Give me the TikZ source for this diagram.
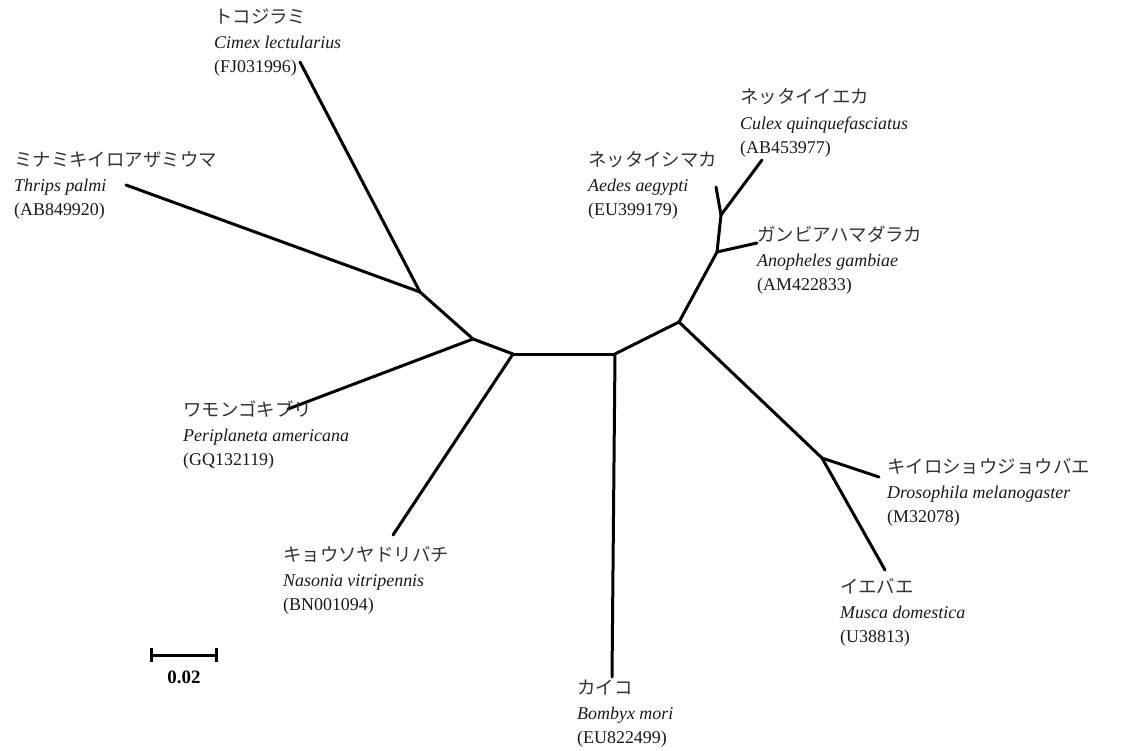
\documentclass[tikz,border=0pt]{standalone}
\usepackage{fontspec}
\setmainfont{Liberation Serif}
\newfontfamily\cjkfont{Noto Sans CJK JP}
\begin{document}
\begin{tikzpicture}[x=1bp,y=-1bp,
  branch/.style={line width=3bp, line cap=round, line join=round},
  jlab/.style={anchor=base west, inner sep=0pt, font=\cjkfont\fontsize{18.5}{20}\selectfont, text=black!80},
  llab/.style={anchor=base west, inner sep=0pt, font=\fontsize{18}{20}\selectfont, text=black!90}]
\useasboundingbox[fill=white] (0,0) rectangle (1121,751);
\newcommand\taxonlab[6]{%
  \node[jlab] (#1j) at (#2,#3) {#4};
  \node[llab] (#1s) at (#2,#3+25) {\textit{#5}};
  \node[llab] (#1a) at (#2,#3+49) {#6};}
% internal junctions
\coordinate (A) at (420,292);
\coordinate (B) at (473,339);
\coordinate (C) at (513,354);
\coordinate (D) at (615,354);
\coordinate (E) at (679,322);
\coordinate (F) at (717,252);
\coordinate (G) at (721,215);
\coordinate (H) at (822,458);
% leaf tips
\coordinate (cimex) at (300,62);
\coordinate (thrips) at (126,185);
\coordinate (peri) at (288,409);
\coordinate (naso) at (393,535);
\coordinate (bomb) at (612,677);
\coordinate (culex) at (762,160);
\coordinate (aedes) at (716,187);
\coordinate (anoph) at (757,243);
\coordinate (droso) at (879,477);
\coordinate (musca) at (885,570);
% branches
\draw[branch] (A) -- (cimex);
\draw[branch] (A) -- (thrips);
\draw[branch] (A) -- (B);
\draw[branch] (B) -- (peri);
\draw[branch] (B) -- (C);
\draw[branch] (C) -- (naso);
\draw[branch] (C) -- (D);
\draw[branch] (D) -- (bomb);
\draw[branch] (D) -- (E);
\draw[branch] (E) -- (F);
\draw[branch] (F) -- (anoph);
\draw[branch] (F) -- (G);
\draw[branch] (G) -- (aedes);
\draw[branch] (G) -- (culex);
\draw[branch] (E) -- (H);
\draw[branch] (H) -- (droso);
\draw[branch] (H) -- (musca);
% labels
\taxonlab{cim}{214}{24}{トコジラミ}{Cimex lectularius}{(FJ031996)}
\taxonlab{thr}{14}{166}{ミナミキイロアザミウマ}{Thrips palmi}{(AB849920)}
\taxonlab{cul}{740}{104}{ネッタイイエカ}{Culex quinquefasciatus}{(AB453977)}
\taxonlab{aed}{588}{166}{ネッタイシマカ}{Aedes aegypti}{(EU399179)}
\taxonlab{ano}{757}{241}{ガンビアハマダラカ}{Anopheles gambiae}{(AM422833)}
\taxonlab{dro}{887}{473}{キイロショウジョウバエ}{Drosophila melanogaster}{(M32078)}
\taxonlab{mus}{840}{593}{イエバエ}{Musca domestica}{(U38813)}
\taxonlab{bom}{577}{694}{カイコ}{Bombyx mori}{(EU822499)}
\taxonlab{nas}{283}{561}{キョウソヤドリバチ}{Nasonia vitripennis}{(BN001094)}
\taxonlab{per}{183}{416}{ワモンゴキブリ}{Periplaneta americana}{(GQ132119)}
% scale bar
\coordinate (sl) at (151,655);
\coordinate (sr) at (216,655);
\draw[branch, line cap=butt] (sl) -- (sr);
\draw[branch, line cap=butt] ([yshift=-7bp]sl) -- ([yshift=7bp]sl);
\draw[branch, line cap=butt] ([yshift=-7bp]sr) -- ([yshift=7bp]sr);
\node[inner sep=0pt, font=\bfseries\fontsize{19}{20}\selectfont] (scale) at (184,677) {0.02};
\end{tikzpicture}
\end{document}
